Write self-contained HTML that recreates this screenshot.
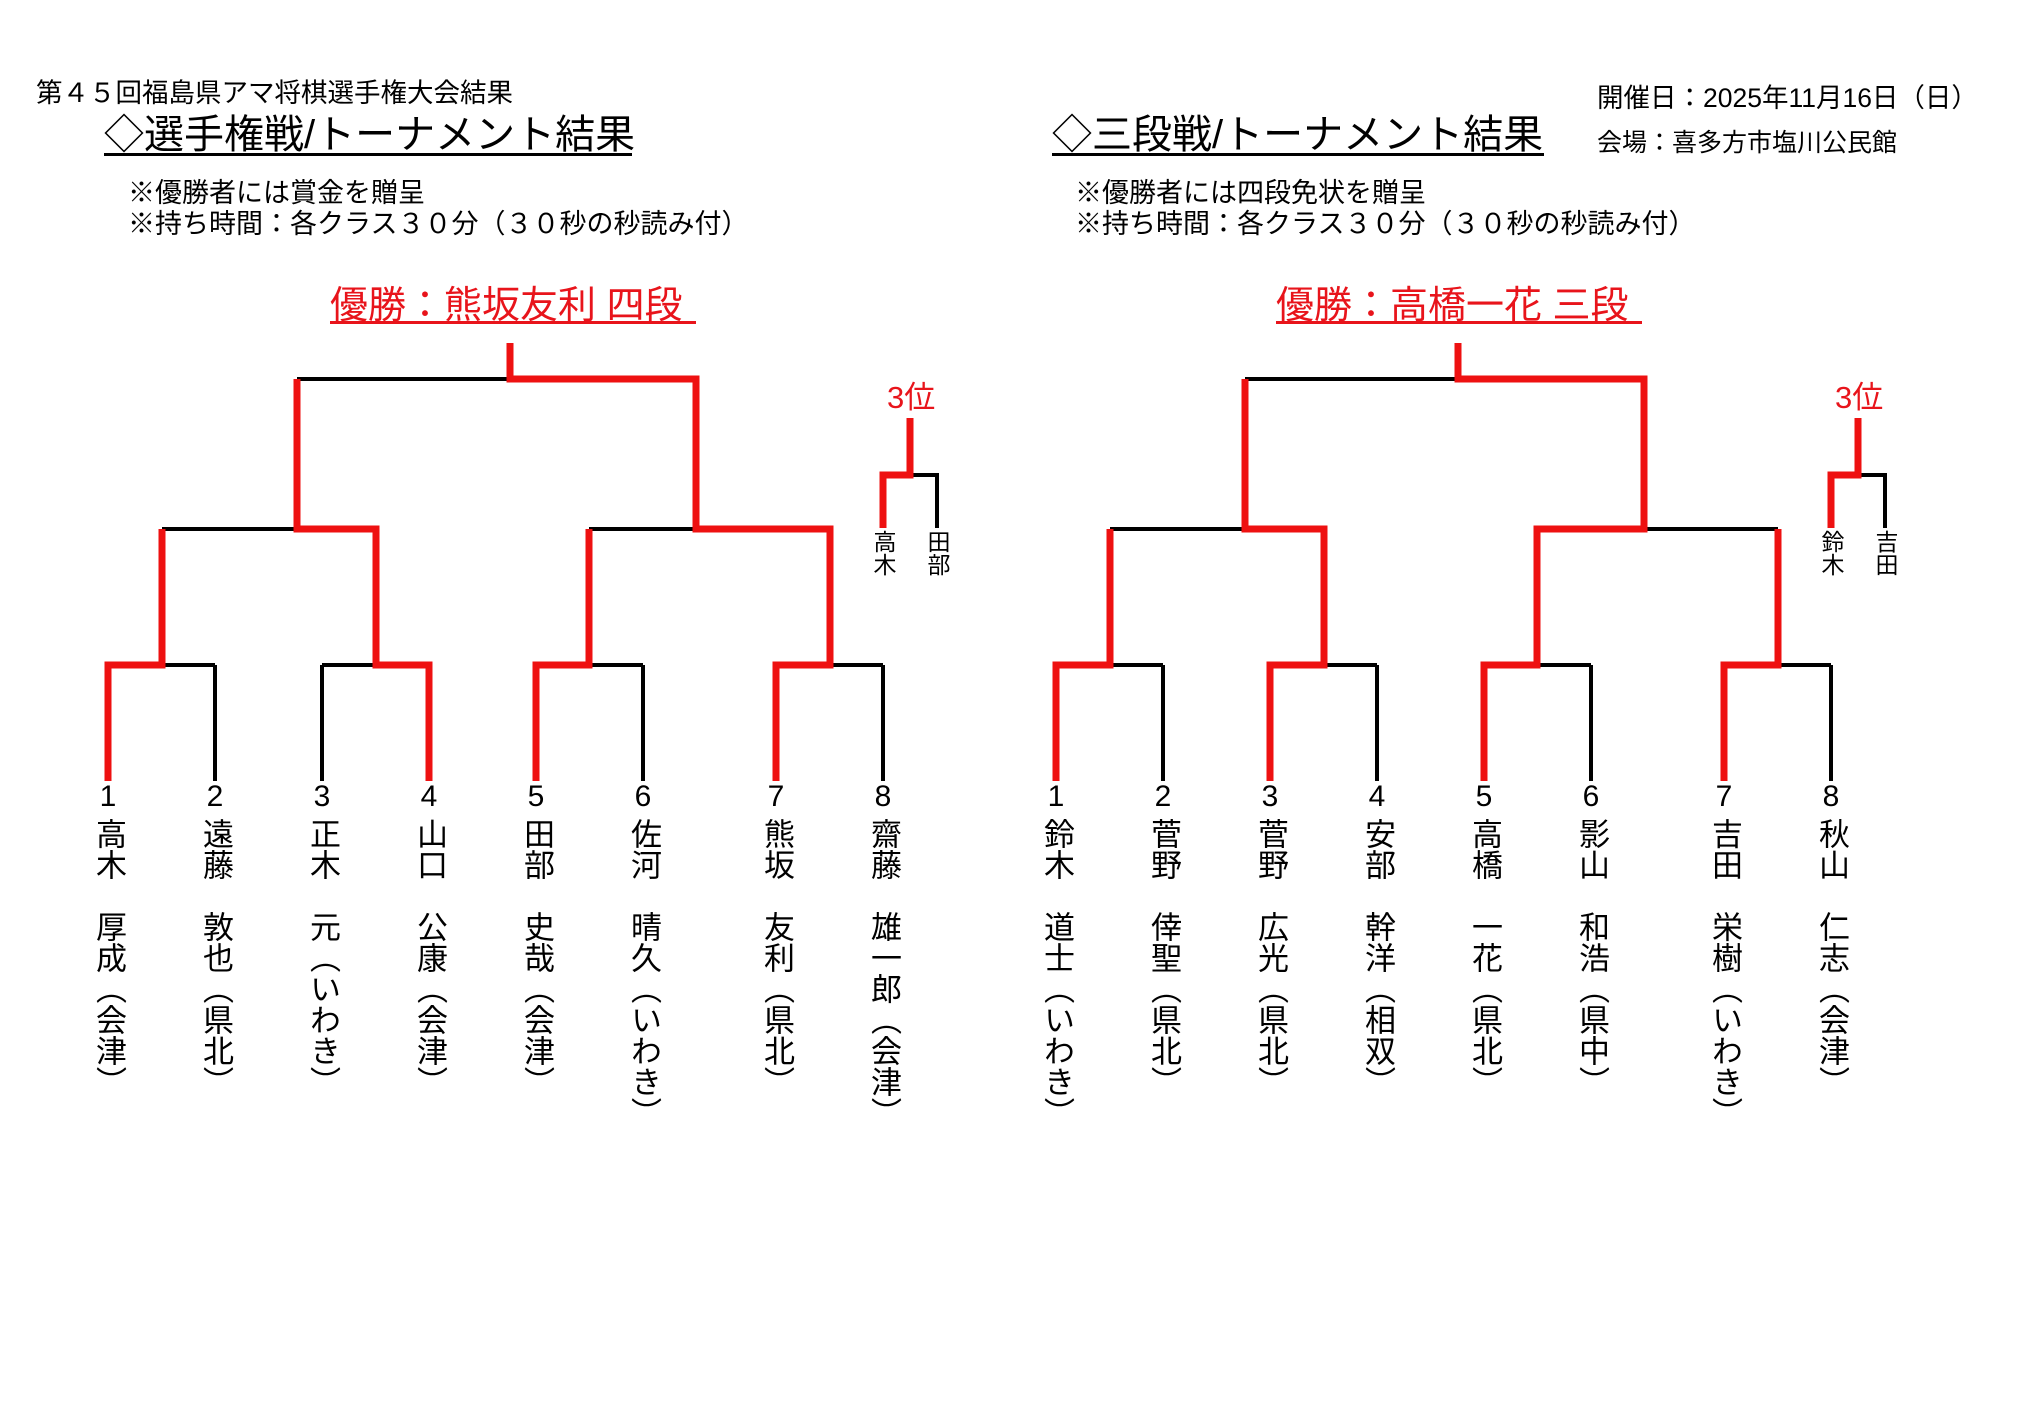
<!DOCTYPE html>
<html><head><meta charset="utf-8">
<style>
html,body{margin:0;padding:0;background:#fff;}
body{width:2020px;height:1422px;position:relative;overflow:hidden;font-family:"Liberation Sans","Noto Sans CJK JP",sans-serif;color:#000;}
.t{position:absolute;white-space:nowrap;}
.v{position:absolute;writing-mode:vertical-rl;text-orientation:mixed;font-size:31px;line-height:32px;width:32px;white-space:nowrap;}
.n{position:absolute;width:40px;text-align:center;font-size:30px;line-height:30px;}
.s{position:absolute;writing-mode:vertical-rl;font-size:23px;line-height:24px;width:24px;white-space:nowrap;}
.red{color:#e8141b;}
</style></head><body>
<div class="t" style="left:36px;top:79px;font-size:26.5px;line-height:28px;">第４５回福島県アマ将棋選手権大会結果</div>
<div class="t" style="left:104px;top:115px;font-size:40px;line-height:40px;">◇選手権戦/トーナメント結果</div>
<div style="position:absolute;left:104px;top:153px;width:528px;height:3px;background:#000;"></div>
<div class="t" style="left:128px;top:179px;font-size:27px;line-height:28px;">※優勝者には賞金を贈呈</div>
<div class="t" style="left:128px;top:210px;font-size:27px;line-height:28px;">※持ち時間：各クラス３０分（３０秒の秒読み付）</div>
<div class="t red" style="left:330px;top:287px;font-size:38px;line-height:38px;">優勝：熊坂友利 四段</div>
<div style="position:absolute;left:330px;top:321px;width:366px;height:3px;background:#e8141b;"></div>

<div class="t" style="left:1052px;top:115px;font-size:40px;line-height:40px;">◇三段戦/トーナメント結果</div>
<div style="position:absolute;left:1052px;top:153px;width:492px;height:3px;background:#000;"></div>
<div class="t" style="left:1075px;top:179px;font-size:27px;line-height:28px;">※優勝者には四段免状を贈呈</div>
<div class="t" style="left:1075px;top:210px;font-size:27px;line-height:28px;">※持ち時間：各クラス３０分（３０秒の秒読み付）</div>
<div class="t red" style="left:1276px;top:287px;font-size:38px;line-height:38px;">優勝：高橋一花 三段</div>
<div style="position:absolute;left:1276px;top:321px;width:366px;height:3px;background:#e8141b;"></div>

<div class="t" style="left:1597px;top:84px;font-size:26.5px;line-height:28px;">開催日：2025年11月16日（日）</div>
<div class="t" style="left:1597px;top:129px;font-size:25px;line-height:28px;">会場：喜多方市塩川公民館</div>

<div class="t red" style="left:887px;top:382px;font-size:31px;line-height:32px;">3位</div>
<div class="t red" style="left:1835px;top:382px;font-size:31px;line-height:32px;">3位</div>

<svg width="2020" height="1422" style="position:absolute;left:0;top:0;" fill="none">
<g stroke="#000" stroke-width="4">
<path d="M297,379H696M162,529H376M589,529H830M297,379V529M696,379V529M108,665H215M322,665H429M536,665H643M776,665H883M162,529V665M376,529V665M589,529V665M830,529V665M108,665V781M215,665V781M322,665V781M429,665V781M536,665V781M643,665V781M776,665V781M883,665V781"/>
<path d="M910,475H937V528"/>
<g transform="translate(948,0)">
<path d="M297,379H696M162,529H376M589,529H830M297,379V529M696,379V529M108,665H215M322,665H429M536,665H643M776,665H883M162,529V665M376,529V665M589,529V665M830,529V665M108,665V781M215,665V781M322,665V781M429,665V781M536,665V781M643,665V781M776,665V781M883,665V781"/>
<path d="M910,475H937V528"/>
</g>
</g>
<g stroke="#ee1111" stroke-width="7" stroke-linejoin="miter">
<path d="M510,343V379H696V529H830V665H776V781"/>
<path d="M297,379V529H376V665H429V781"/>
<path d="M162,529V665H108V781"/>
<path d="M589,529V665H536V781"/>
<path d="M910,418V475H883V528"/>
<g transform="translate(948,0)">
<path d="M510,343V379H696V529H589V665H536V781"/>
<path d="M830,529V665H776V781"/>
<path d="M297,379V529H376V665H322V781"/>
<path d="M162,529V665H108V781"/>
<path d="M910,418V475H883V528"/>
</g>
</g>
</svg>

<div class="s" style="left:871px;top:530px;">高木</div>
<div class="s" style="left:925px;top:530px;">田部</div>
<div class="s" style="left:1819px;top:530px;">鈴木</div>
<div class="s" style="left:1873px;top:530px;">吉田</div>

<div class="n" style="left:88px;top:782px;">1</div>
<div class="n" style="left:195px;top:782px;">2</div>
<div class="n" style="left:302px;top:782px;">3</div>
<div class="n" style="left:409px;top:782px;">4</div>
<div class="n" style="left:516px;top:782px;">5</div>
<div class="n" style="left:623px;top:782px;">6</div>
<div class="n" style="left:756px;top:782px;">7</div>
<div class="n" style="left:863px;top:782px;">8</div>
<div class="n" style="left:1036px;top:782px;">1</div>
<div class="n" style="left:1143px;top:782px;">2</div>
<div class="n" style="left:1250px;top:782px;">3</div>
<div class="n" style="left:1357px;top:782px;">4</div>
<div class="n" style="left:1464px;top:782px;">5</div>
<div class="n" style="left:1571px;top:782px;">6</div>
<div class="n" style="left:1704px;top:782px;">7</div>
<div class="n" style="left:1811px;top:782px;">8</div>

<div class="v" style="left:92px;top:818px;">高木　厚成（会津）</div>
<div class="v" style="left:199px;top:818px;">遠藤　敦也（県北）</div>
<div class="v" style="left:306px;top:818px;">正木　元（いわき）</div>
<div class="v" style="left:413px;top:818px;">山口　公康（会津）</div>
<div class="v" style="left:520px;top:818px;">田部　史哉（会津）</div>
<div class="v" style="left:627px;top:818px;">佐河　晴久（いわき）</div>
<div class="v" style="left:760px;top:818px;">熊坂　友利（県北）</div>
<div class="v" style="left:867px;top:818px;">齋藤　雄一郎（会津）</div>
<div class="v" style="left:1040px;top:818px;">鈴木　道士（いわき）</div>
<div class="v" style="left:1147px;top:818px;">菅野　倖聖（県北）</div>
<div class="v" style="left:1254px;top:818px;">菅野　広光（県北）</div>
<div class="v" style="left:1361px;top:818px;">安部　幹洋（相双）</div>
<div class="v" style="left:1468px;top:818px;">高橋　一花（県北）</div>
<div class="v" style="left:1575px;top:818px;">影山　和浩（県中）</div>
<div class="v" style="left:1708px;top:818px;">吉田　栄樹（いわき）</div>
<div class="v" style="left:1815px;top:818px;">秋山　仁志（会津）</div>
</body></html>
